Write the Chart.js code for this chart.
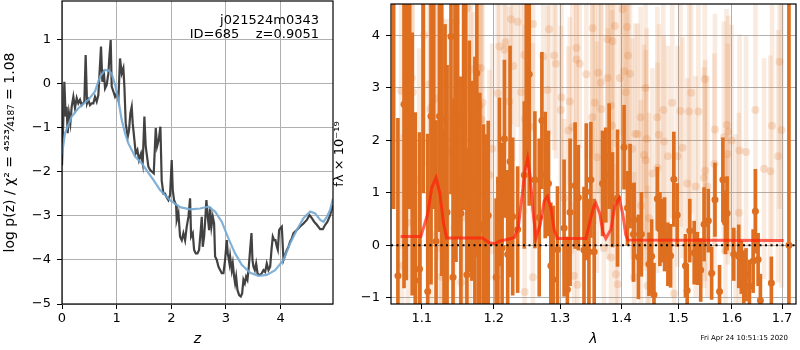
<!DOCTYPE html>
<html>
<head>
<meta charset="utf-8">
<script src="https://cdn.jsdelivr.net/npm/chart.js@4.4.1/dist/chart.umd.min.js"></script>
<style>
  body { margin: 0; background: #fff; }
  #wrap { position: relative; width: 800px; height: 350px; }
  canvas { position: absolute; top: 0; }
  #pz { left: 0; }
  #spec { left: 330px; }
  .stamp { position: absolute; right: 12px; top: 334px; font: 7px 'DejaVu Sans'; color: #000; }
</style>
</head>
<body>
<div id="wrap">
  <canvas id="pz" width="345" height="350"></canvas>
  <canvas id="spec" width="470" height="350"></canvas>
  <div class="stamp">Fri Apr 24 10:51:15 2020</div>
</div>

<script type="text/javascript">
    // ---- p(z) panel ----
    const objName = 'j021524m0343';
    const idLine = 'ID=685    z=0.9051';

    const zTicks = [0, 1, 2, 3, 4];
    const pTicks = [-5, -4, -3, -2, -1, 0, 1];

    // log p(z), noisy fit
    const zRaw = [0.000,0.024,0.043,0.067,0.085,0.104,0.128,0.153,0.177,0.208,
      0.238,0.269,0.299,0.330,0.360,0.409,0.433,0.458,0.482,0.513,
      0.543,0.574,0.604,0.635,0.665,0.714,0.739,0.763,0.788,0.818,
      0.849,0.867,0.891,0.910,0.940,0.971,1.001,1.032,1.062,1.093,
      1.123,1.142,1.166,1.203,1.227,1.251,1.276,1.294,1.325,1.349,
      1.380,1.410,1.447,1.477,1.508,1.532,1.557,1.581,1.612,1.642,
      1.679,1.716,1.740,1.771,1.801,1.825,1.856,1.886,1.917,1.947,
      1.978,2.008,2.027,2.051,2.088,2.100,2.131,2.161,2.192,2.222,
      2.253,2.283,2.314,2.344,2.363,2.393,2.418,2.448,2.479,2.509,
      2.540,2.558,2.576,2.601,2.625,2.643,2.668,2.692,2.711,2.735,
      2.760,2.784,2.802,2.833,2.863,2.894,2.924,2.955,2.985,3.016,
      3.034,3.065,3.077,3.107,3.126,3.150,3.168,3.187,3.211,3.242,
      3.272,3.297,3.321,3.346,3.370,3.394,3.419,3.443,3.468,3.486,
      3.504,3.529,3.553,3.578,3.602,3.626,3.657,3.687,3.718,3.748,
      3.779,3.810,3.834,3.858,3.883,3.907,3.932,3.950,3.974,3.993,
      4.023,4.054,4.084,4.115,4.145,4.176,4.206,4.237,4.298,4.359,
      4.420,4.481,4.530,4.573,4.615,4.664,4.725,4.774,4.817,4.859,
      4.908,4.957];
    const pRaw = [-1.85,-0.82,0.05,-0.74,-0.52,-1.12,-0.67,-0.89,-0.52,-0.29,
      -0.55,-0.32,-0.44,-0.36,-0.48,-0.40,0.66,-0.44,-0.36,-0.48,
      -0.44,-0.44,-0.29,-0.40,-0.25,0.85,0.05,0.32,-0.10,-0.02,
      0.24,0.62,1.00,-0.06,-0.17,-0.29,-0.21,-0.36,0.58,0.24,
      0.36,-0.06,-0.89,-1.20,-1.05,-0.67,-0.52,-0.89,-1.27,-1.58,
      -1.50,-1.73,-1.58,-1.80,-0.74,-1.42,-1.65,-1.88,-1.95,-1.99,
      -2.03,-1.00,-1.42,-1.27,-0.97,-2.20,-2.49,-2.49,-2.58,-2.64,
      -2.52,-1.73,-2.41,-2.64,-2.75,-3.09,-2.94,-3.47,-3.55,-3.39,
      -3.55,-3.24,-3.02,-2.60,-3.47,-3.39,-3.77,-3.85,-3.85,-3.77,
      -3.32,-3.02,-3.70,-3.47,-3.02,-2.64,-3.02,-3.32,-2.79,-3.24,
      -3.02,-3.17,-3.92,-4.00,-4.15,-4.23,-4.30,-4.30,-4.00,-3.55,
      -3.85,-4.08,-3.92,-4.23,-4.08,-4.38,-4.53,-4.38,-4.68,-4.80,
      -4.83,-4.76,-4.45,-4.53,-4.38,-4.45,-4.15,-3.77,-3.39,-4.00,
      -4.15,-4.23,-4.08,-4.30,-4.34,-4.34,-4.30,-4.23,-4.27,-4.08,
      -4.23,-4.15,-3.77,-3.47,-3.55,-3.55,-3.70,-3.77,-3.32,-3.28,
      -3.24,-4.00,-3.89,-3.77,-3.70,-3.58,-3.51,-3.39,-3.32,-3.24,
      -3.17,-3.09,-2.98,-3.05,-3.13,-3.20,-3.30,-3.30,-3.20,-3.13,
      -2.98,-2.75];

    // smooth prior-weighted curve
    const zSmooth = [0.000,0.055,0.177,0.299,0.482,0.604,0.696,0.788,0.849,0.910,
      0.971,1.032,1.093,1.154,1.215,1.337,1.459,1.581,1.673,1.795,
      1.978,2.161,2.344,2.527,2.680,2.802,2.924,3.046,3.168,3.290,
      3.443,3.596,3.748,3.901,4.054,4.176,4.298,4.420,4.542,4.634,
      4.725,4.786,4.847,4.908,4.960];
    const pSmooth = [-1.60,-1.12,-0.74,-0.55,-0.36,-0.17,0.17,0.32,0.31,0.23,
      -0.02,-0.36,-0.82,-1.12,-1.35,-1.65,-1.80,-2.02,-2.18,-2.41,
      -2.64,-2.80,-2.85,-2.83,-2.79,-2.90,-3.13,-3.51,-3.85,-4.11,
      -4.29,-4.36,-4.34,-4.23,-4.00,-3.62,-3.32,-3.05,-2.90,-2.94,
      -3.09,-3.13,-3.02,-2.86,-2.60];

    // ---- spectrum panel ----
    const lamTicks = [1.1, 1.2, 1.3, 1.4, 1.5, 1.6, 1.7];
    const fluxTicks = [-1, 0, 1, 2, 3, 4];
    const lamRange = [1.0598, 1.729];

    // this object's spectrum (solid)
    const solidWave = [1.0687,1.0766,1.0796,1.0873,1.0913,1.0970,1.1079,1.1123,1.1191,1.1237,
      1.1268,1.1313,1.1341,1.1395,1.1423,1.1464,1.1487,1.1532,1.1570,1.1616,
      1.1650,1.1686,1.1729,1.1757,1.1799,1.1852,1.1884,1.1919,
      1.2034,1.2082,1.2121,1.2155,1.2203,1.2238,1.2277,1.2351,1.2451,1.2525,
      1.2611,1.2677,1.2718,1.2769,1.2820,1.2856,1.2892,1.2960,1.3064,1.3116,
      1.3159,1.3239,1.3291,1.3382,1.3419,1.3462,1.3494,
      1.3548,1.3685,1.3740,1.3795,1.3852,1.3935,1.4046,1.4104,1.4148,1.4206,
      1.4217,1.4292,1.4343,1.4475,1.4522,1.4563,1.4622,1.4668,1.4711,1.4751,
      1.4810,1.4858,1.4917,1.4978,1.5128,1.5159,1.5207,
      1.5288,1.5348,1.5409,1.5472,1.5552,1.5614,1.5677,1.5764,1.5828,1.5877,
      1.5909,1.6037,1.6134,1.6185,1.6232,1.6277,1.6344,1.6417,1.6462,1.6516,
      1.6562,1.6783,1.7143,
      1.0632,1.0840,1.1020,1.1160,1.1300,1.1450,1.1600,1.1780,1.2480,1.2060];
    const solidFlux = [-0.58,2.69,2.14,1.55,-0.67,-0.45,-0.88,2.46,0.08,2.46,
      2.02,2.41,0.63,3.98,-0.61,2.29,2.44,0.61,2.68,-0.56,
      1.70,1.23,1.19,3.28,0.30,0.40,-0.09,0.57,
      -0.61,1.21,-0.05,2.03,-0.17,1.60,0.55,0.30,1.34,3.26,
      1.25,0.53,2.38,1.34,1.18,-0.39,-0.65,-0.08,0.33,-0.84,
      0.63,1.14,0.91,-0.09,1.02,-0.12,1.25,
      -0.12,1.18,1.34,1.70,0.87,0.90,1.87,0.71,1.13,0.21,
      0.49,-0.22,0.21,-0.36,-0.21,-0.94,0.89,0.31,0.28,0.21,
      -0.17,-0.20,1.26,0.58,-0.39,-0.86,0.28,
      -0.14,-0.25,-0.47,0.40,0.47,-0.53,0.87,-0.88,1.25,0.44,
      0.61,-0.17,-0.21,-0.42,-0.60,-0.56,-0.78,-0.30,0.65,-0.27,
      -1.05,-0.72,0.00,
      5.2,4.9,5.0,5.3,-1.6,4.8,5.1,-1.5,5.0,-1.5];
    const solidErr = [3.0,3.5,2.8,2.5,3.2,2.6,3.0,3.2,2.3,2.2,
      2.6,1.8,2.8,3.0,3.4,2.6,2.3,2.6,2.0,2.4,
      2.2,1.9,2.4,3.5,2.6,1.9,2.2,1.8,
      1.5,1.6,2.0,1.5,1.6,2.2,1.5,1.2,1.4,2.5,
      1.3,1.5,1.3,1.2,1.0,1.2,1.4,1.2,1.3,1.0,
      1.4,1.2,1.0,1.2,1.3,1.0,1.1,
      1.0,1.0,0.9,1.0,0.9,1.3,0.8,0.7,0.8,0.9,
      0.7,0.8,0.8,0.6,0.7,0.6,0.6,0.7,0.6,0.7,
      0.6,0.6,0.9,0.6,0.6,0.5,0.6,
      0.6,0.5,0.6,0.7,0.6,0.5,0.7,0.5,0.8,0.6,
      0.7,0.5,0.6,0.5,0.5,0.5,0.5,0.6,0.8,0.5,
      0.5,0.5,6.0,
      4.5,4.2,4.0,4.6,3.8,3.9,4.2,3.2,3.5,2.8];

    // other exposures / contamination (faded)
    const fadedWave = [1.1627,1.1268,1.1464,1.1030,1.0796,1.0869,1.0730,1.0880,1.1102,1.1191,
      1.1767,1.1813,1.1672,1.1838,1.1791,1.1115,1.1696,1.1823,1.1205,1.1350,
      1.0965,1.0740,1.0817,1.1120,1.1255,1.1441,1.1579,1.1660,1.1840,1.1260,
      1.1532,1.2253,1.2351,1.2586,1.2830,1.2082,1.2170,1.2155,1.2287,1.2451,
      1.2738,1.2908,1.2934,1.3259,1.3262,1.3313,1.3419,1.2057,1.2228,1.2401,
      1.2804,1.3013,1.3154,1.2460,1.2576,1.3132,1.1976,1.1937,1.3064,1.2580,
      1.3222,1.3276,1.2455,1.4019,1.3522,1.3890,1.4097,1.3768,1.3852,1.4114,
      1.3614,1.4046,1.4148,1.3658,1.3770,1.3974,1.4417,1.4075,1.5232,1.4887,
      1.5037,1.4728,1.5195,1.3823,1.3560,1.4331,1.4622,1.3665,1.4275,1.4435,
      1.4650,1.5074,1.4983,1.4810,1.4625,1.4389,1.4185,1.4738,1.4420,1.3777,
      1.3593,1.4536,1.5159,1.4335,1.4475,1.3707,1.3826,1.3907,1.3940,1.4217,
      1.4450,1.4920,1.3022,1.3195,1.3516,1.3845,1.4238,1.5485,1.5366,1.6462,
      1.6797,1.6918,1.6763,1.5677,1.5847,1.5931,1.5899,1.5995,1.6150,1.6277,
      1.5920,1.5664,1.5493,1.5472,1.5534,1.5316,1.6138,1.6072,1.5877,1.6636,
      1.6950,1.6990];
    const fadedFlux = [4.52,4.26,4.26,4.01,3.21,3.19,2.94,2.92,3.07,2.80,
      3.38,3.38,3.35,2.72,2.66,2.60,2.44,2.40,2.23,1.81,
      1.25,-0.39,0.43,0.21,-0.05,0.33,0.53,-0.14,0.65,-0.60,
      -0.71,4.31,4.26,4.22,4.12,3.79,3.87,3.73,3.42,3.63,
      3.60,3.62,3.46,3.76,3.54,3.46,3.26,2.90,2.74,2.92,
      2.96,2.58,2.74,2.41,2.25,2.19,1.84,1.34,0.90,-0.61,
      -0.58,-0.75,-0.89,4.50,4.14,4.18,4.16,3.93,3.89,3.62,
      3.29,3.32,3.27,3.10,3.19,3.19,3.00,2.92,2.91,2.72,
      2.56,2.58,2.55,2.66,2.72,2.44,2.44,2.60,2.12,2.03,
      2.11,1.86,1.70,1.70,1.48,1.72,1.84,1.98,1.62,1.94,
      1.68,1.37,1.18,0.76,0.52,-0.05,-0.23,-0.55,-0.74,-0.61,
      -0.77,-0.92,2.82,2.25,2.44,2.28,2.12,3.17,2.55,2.58,
      2.28,1.70,1.41,2.21,2.06,2.17,2.30,2.00,1.81,1.78,
      1.74,1.55,1.42,1.29,1.12,1.12,0.62,0.21,-0.11,1.46,
      3.50,2.20];
    const fadedErr = [2.0,2.5,2.5,2.5,3.0,2.5,3.0,2.5,3.0,2.5,
      2.0,2.5,2.2,2.0,2.5,3.0,2.0,2.2,2.5,2.5,
      2.5,2.5,2.5,2.5,2.2,2.5,2.2,2.0,2.0,2.2,
      2.0,2.0,2.0,2.0,2.0,2.0,1.8,2.0,1.8,2.0,
      1.8,1.8,1.8,1.8,1.6,1.6,1.6,2.0,1.8,1.8,
      1.6,1.6,1.6,1.8,1.6,1.6,2.0,2.0,1.5,1.6,
      1.4,1.4,1.6,2.4,2.4,2.3,2.3,2.3,2.3,2.2,
      2.3,2.2,2.2,2.3,2.2,2.2,2.1,2.2,2.3,2.2,
      2.2,2.2,2.2,2.2,2.3,2.1,2.1,2.2,2.1,2.1,
      2.1,2.1,2.1,2.1,2.0,2.1,2.1,2.0,2.1,2.2,
      2.2,2.0,2.0,2.0,2.0,2.1,2.1,2.1,2.0,2.0,
      1.9,1.8,2.4,2.4,2.3,2.2,2.1,2.3,2.3,2.3,
      2.3,2.4,2.2,2.2,2.2,2.2,2.2,2.2,2.2,2.2,
      2.1,2.1,2.1,2.1,2.1,2.1,1.9,1.9,1.8,2.1,
      2.8,3.0];

    // best-fit line model
    const modelWave = [1.0722,1.0987,1.1079,1.1133,1.1191,1.1241,1.1295,1.1336,1.1838,1.1937,
      1.2009,1.2082,1.2228,1.2302,1.2361,1.2406,1.2458,1.2500,1.2540,1.2586,
      1.2627,1.2693,1.2754,1.2804,1.2861,1.2908,1.2959,1.3414,1.3478,1.3543,
      1.3576,1.3641,1.3691,1.3740,1.3823,1.3890,1.3962,1.4024,1.4075,1.4109,
      1.7034];
    const modelFlux = [0.17,0.17,0.60,1.10,1.29,1.00,0.40,0.14,0.14,0.05,
      0.03,0.08,0.12,0.15,0.35,0.83,1.40,1.65,1.30,0.60,
      0.14,0.40,0.85,0.93,0.70,0.30,0.13,0.13,0.45,0.75,
      0.80,0.60,0.25,0.13,0.30,0.75,0.90,0.60,0.20,0.10,
      0.09];
    const zeroFlux = [0, 0];

    const ORANGE = 'rgb(222,111,32)';
    const ORANGE_FADED = 'rgba(222,111,32,0.14)';

    Chart.defaults.font.family = "'DejaVu Sans', sans-serif";
    Chart.defaults.font.size = 13;
    Chart.defaults.color = '#000';
    Chart.defaults.animation = false;

    const minus = v => String(v).replace('-', '\u2212');

    // matplotlib-like box round the axes
    const frame = {
      id: 'frame',
      afterDraw(chart) {
        const {ctx, chartArea: a} = chart;
        ctx.save();
        ctx.strokeStyle = '#000';
        ctx.lineWidth = 1.2;
        ctx.strokeRect(a.left, a.top, a.right - a.left, a.bottom - a.top);
        ctx.restore();
      }
    };

    const note = {
      id: 'note',
      afterDraw(chart) {
        const c = chart.ctx;
        c.save();
        c.font = "13px 'DejaVu Sans'";
        c.textAlign = 'right';
        c.fillStyle = '#000';
        c.fillText(objName, chart.chartArea.right - 14, 24);
        c.fillText(idLine, chart.chartArea.right - 14, 38);
        c.restore();
      }
    };

    function gridOpts() {
      return { color: '#b0b0b0', lineWidth: 1, tickColor: '#000', tickLength: 5, offset: false };
    }
    // fixed axis boxes so the plot area sits where it does in the figure
    function fitX(s) { s.height = 46; s.paddingLeft = 0; s.paddingRight = 0; }
    function fitY(w) { return s => { s.width = w; s.paddingTop = 0; s.paddingBottom = 0; }; }

    const ctx = document.getElementById('pz').getContext('2d');
    const pzChart = new Chart(ctx, {
      type: 'scatter',
      data: {
        datasets: [
          { data: zSmooth.map((z, i) => ({x: z, y: pSmooth[i]})), showLine: true,
            borderColor: 'rgba(116,169,212,0.9)', borderWidth: 2.2, pointRadius: 0, order: 0 },
          { data: zRaw.map((z, i) => ({x: z, y: pRaw[i]})), showLine: true,
            borderColor: 'rgba(50,50,50,0.92)', borderWidth: 2.2, pointRadius: 0, order: 1 }
        ]
      },
      options: {
        responsive: false,
        layout: { padding: { left: 0, right: 12, top: 1, bottom: 0 } },
        plugins: { legend: { display: false }, tooltip: { enabled: false } },
        scales: {
          x: {
            type: 'linear', min: 0, max: 4.96, offset: false,
            grid: gridOpts(), border: { display: false },
            afterBuildTicks: s => { s.ticks = zTicks.map(v => ({value: v})); },
            afterFit: fitX,
            ticks: { padding: 2, callback: v => minus(v) },
            title: { display: true, text: 'z', font: { size: 14, style: 'italic' }, padding: { top: 0, bottom: 2 } }
          },
          y: {
            min: -5, max: 1.886,
            grid: gridOpts(), border: { display: false },
            afterBuildTicks: s => { s.ticks = pTicks.map(v => ({value: v})); },
            afterFit: fitY(62),
            ticks: { padding: 6, callback: v => minus(v) },
            title: { display: true, text: 'log p(z) / \u03c7\u00b2 = \u2074\u2075\u00b2\u00b3\u2044\u2084\u2081\u2088\u2087 = 1.08', font: { size: 14 }, padding: { top: 2, bottom: 0 } }
          }
        }
      },
      plugins: [frame, note]
    });

    const ctx1 = document.getElementById('spec').getContext('2d');
    const specChart = new Chart(ctx1, {
      type: 'scatter',
      data: {
        datasets: [
          { type: 'line', data: lamRange.map((w, i) => ({x: w, y: zeroFlux[i]})),
            borderColor: '#000', borderWidth: 2, borderDash: [2, 3.5], pointRadius: 0, order: 0 },
          { type: 'line', data: modelWave.map((w, i) => ({x: w, y: modelFlux[i]})),
            borderColor: 'rgba(255,30,10,0.7)', borderWidth: 3, pointRadius: 0, order: 1 },
          { data: solidWave.map((w, i) => ({x: w, y: solidFlux[i]})),
            backgroundColor: ORANGE, borderWidth: 0, pointRadius: 3.5, order: 2 },
          { type: 'bar', grouped: false, barThickness: 3,
            data: solidWave.map((w, i) => ({x: w, y: [solidFlux[i] - solidErr[i], solidFlux[i] + solidErr[i]]})),
            backgroundColor: ORANGE, order: 3 },
          { data: fadedWave.map((w, i) => ({x: w, y: fadedFlux[i]})),
            backgroundColor: 'rgba(222,111,32,0.2)', borderWidth: 0, pointRadius: 4, order: 4 },
          { type: 'bar', grouped: false, barThickness: 4,
            data: fadedWave.map((w, i) => ({x: w, y: [fadedFlux[i] - fadedErr[i], fadedFlux[i] + fadedErr[i]]})),
            backgroundColor: ORANGE_FADED, order: 5 }
        ]
      },
      options: {
        responsive: false,
        layout: { padding: { left: 0, right: 2, top: 1, bottom: 0 } },
        plugins: { legend: { display: false }, tooltip: { enabled: false } },
        scales: {
          x: {
            type: 'logarithmic', min: lamRange[0], max: lamRange[1], offset: false,
            grid: gridOpts(), border: { display: false },
            afterBuildTicks: s => { s.ticks = lamTicks.map(v => ({value: v})); },
            afterFit: fitX,
            ticks: { padding: 2, autoSkip: false, maxRotation: 0, callback: v => Number(v).toFixed(1) },
            title: { display: true, text: '\u03bb', font: { size: 14, style: 'italic' }, padding: { top: 0, bottom: 2 } }
          },
          y: {
            type: 'linear', min: -1.118, max: 4.6, beginAtZero: false,
            grid: gridOpts(), border: { display: false },
            afterBuildTicks: s => { s.ticks = fluxTicks.map(v => ({value: v})); },
            afterFit: fitY(61),
            ticks: { padding: 6, callback: v => minus(v) },
            title: { display: true, text: 'f\u03bb \u00d7 10\u207b\u00b9\u2079', font: { size: 13 }, padding: { top: 2, bottom: 0 } }
          }
        }
      },
      plugins: [frame]
    });
</script>
</body>
</html>
